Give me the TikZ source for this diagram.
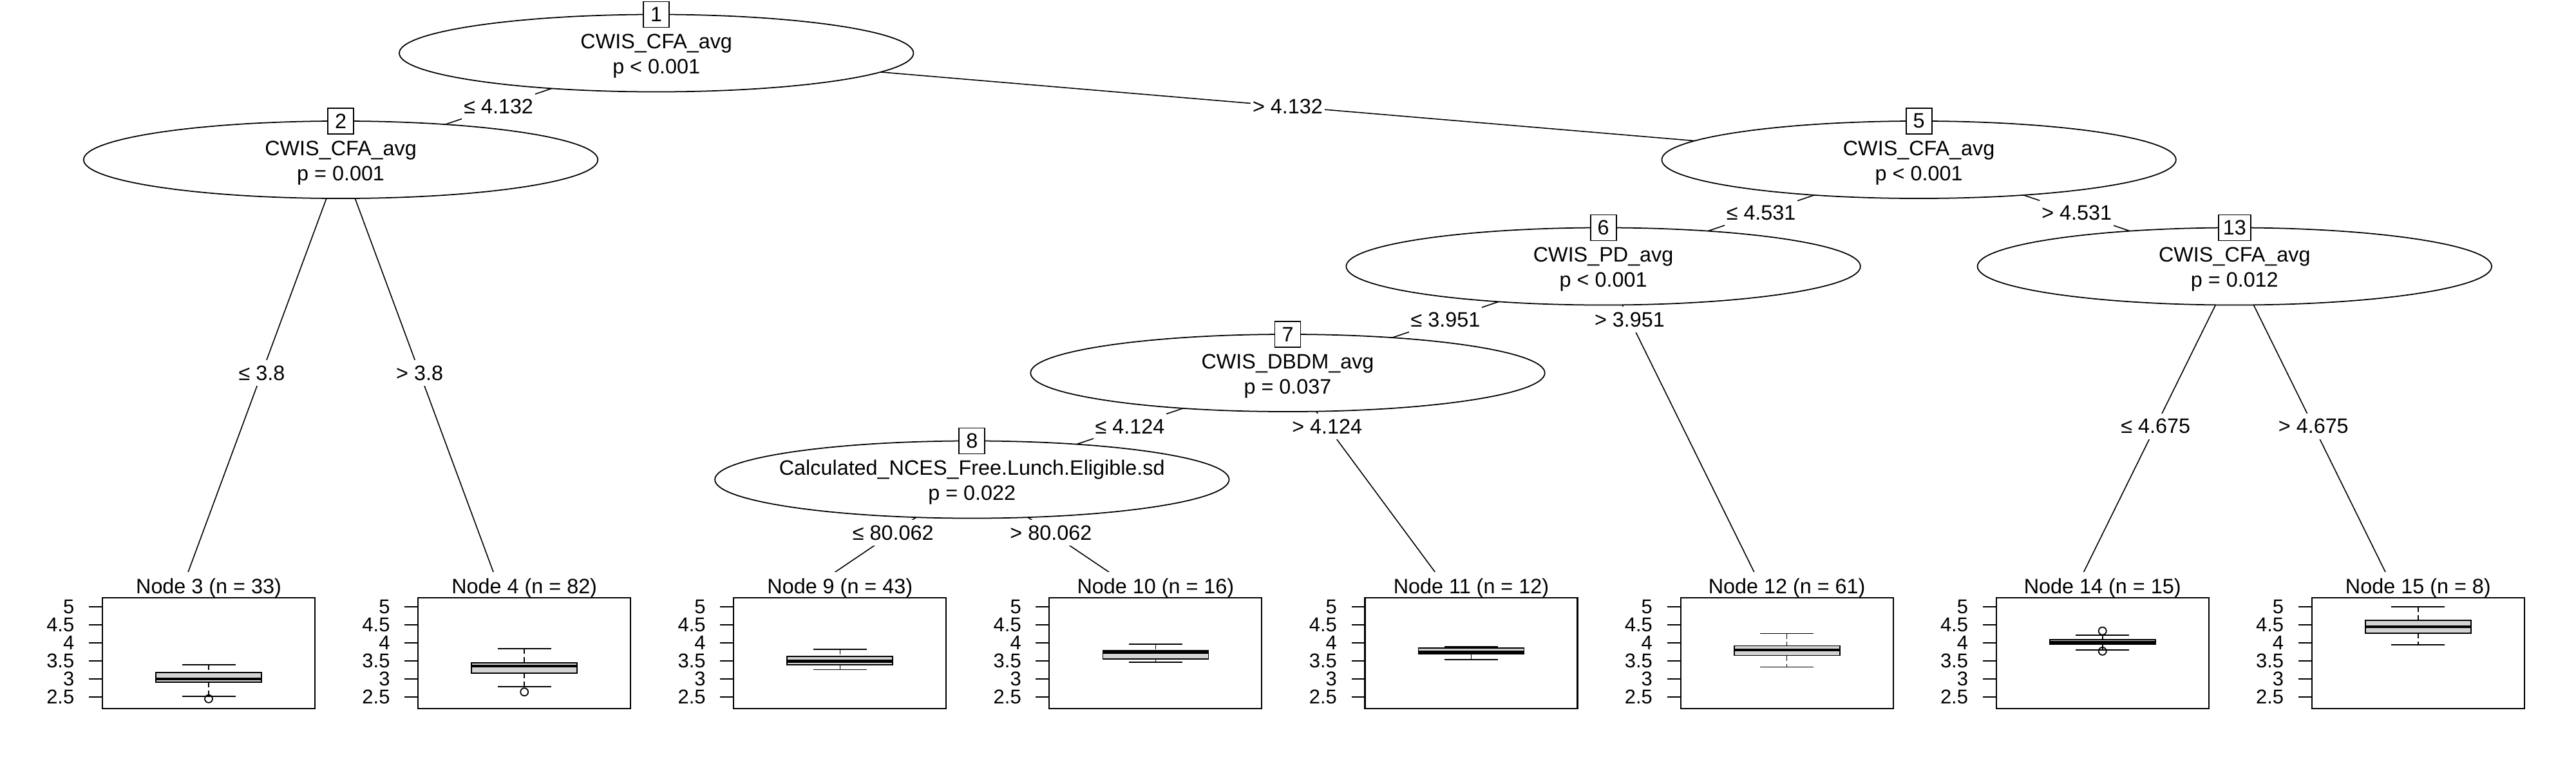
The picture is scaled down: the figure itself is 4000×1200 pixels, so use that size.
\documentclass[tikz,border=0pt]{standalone}
\usepackage{fontspec}
\setmainfont{Liberation Sans}
\usetikzlibrary{shapes.geometric,calc}
\pgfdeclarelayer{bg}
\pgfsetlayers{bg,main}
\newcommand\fn{\fontsize{9.2pt}{11pt}\selectfont}
\newcommand\ftick{\fontsize{8.8pt}{10pt}\selectfont}
\definecolor{boxgray}{HTML}{D3D3D3}

\newcommand\innernode[6]{%
  \node[ell] (#1) at (#2,#3) {};
  \node[numbox] (#1k) at (#2,#3-60) {#4};
  \node[txt,anchor=base] (#1a) at (#2,#3-7) {#5};
  \node[txt,anchor=base] (#1b) at (#2,#3+32) {#6};
}

\newcommand\terminal[8]{%
  \pgfmathsetmacro\bx{#2+40}
  \pgfmathsetmacro\yuw{942+56*(5-#4)}
  \pgfmathsetmacro\yqt{942+56*(5-#5)}
  \pgfmathsetmacro\ymd{942+56*(5-#6)}
  \pgfmathsetmacro\yqo{942+56*(5-#7)}
  \pgfmathsetmacro\ylw{942+56*(5-#8)}
  \coordinate (#1) at (#2,910);
  \node[panel] (#1p) at (#2,1044) {};
  \draw[frame] (#2-125,928) rectangle (#2+205,1100);
  \node[txt,anchor=base] (#1t) at (\bx,921) {#3};
  \foreach \v in {5,4.5,4,3.5,3,2.5}{%
    \draw[tickl] (#2-146,{942+56*(5-\v)}) -- (#2-125,{942+56*(5-\v)});
    \node[ticklab,anchor=east] at (#2-168,{942+56*(5-\v)}) {\v};
  }
  \draw[whisk] (\bx,\yuw) -- (\bx,\yqt);
  \draw[whisk] (\bx,\yqo) -- (\bx,\ylw);
  \draw[bpl] (\bx-41.5,\yuw) -- (\bx+41.5,\yuw);
  \draw[bpl] (\bx-41.5,\ylw) -- (\bx+41.5,\ylw);
  \filldraw[bpl,fill=boxgray] (\bx-82,\yqt) rectangle (\bx+82,\yqo);
  \draw[med] (\bx-82,\ymd) -- (\bx+82,\ymd);
  \coordinate (#1c) at (\bx,942);
}
\newcommand\outlier[2]{\draw[bpl] ($(#1c)+(0,{56*(5-#2)})$) circle[radius=0.06cm];}

\begin{document}
\begin{tikzpicture}[x=0.01cm,y=-0.01cm,
  ell/.style={ellipse,draw,fill=white,line width=0.5pt,minimum width=7.98cm,minimum height=1.2cm,inner sep=0pt},
  numbox/.style={draw,fill=white,line width=0.5pt,font=\fn,minimum width=0.4cm,minimum height=0.4cm,inner xsep=0.07cm,inner ysep=0pt},
  txt/.style={font=\fn,inner sep=0pt},
  elab/.style={font=\fn,fill=white,inner xsep=0.03cm,inner ysep=0pt,minimum height=0.4cm},
  edgeline/.style={line width=0.45pt},
  panel/.style={fill=white,minimum width=4.9cm,minimum height=3.12cm,inner sep=0pt},
  frame/.style={line width=0.6pt},
  tickl/.style={line width=0.5pt},
  ticklab/.style={font=\ftick,inner sep=0pt},
  whisk/.style={line width=0.45pt,dash pattern=on 2.3pt off 1.4pt},
  bpl/.style={line width=0.5pt},
  med/.style={line width=1.25pt}]
\useasboundingbox (0,0) rectangle (4000,1200);

% inner nodes
\innernode{n1}{1019.2}{82.5}{1}{CWIS\_CFA\_avg}{p < 0.001}
\innernode{n2}{529.1}{248}{2}{CWIS\_CFA\_avg}{p = 0.001}
\innernode{n5}{2979.6}{248}{5}{CWIS\_CFA\_avg}{p < 0.001}
\innernode{n6}{2489.6}{413.5}{6}{CWIS\_PD\_avg}{p < 0.001}
\innernode{n13}{3469.8}{413.5}{13}{CWIS\_CFA\_avg}{p = 0.012}
\innernode{n7}{1999.5}{579}{7}{CWIS\_DBDM\_avg}{p = 0.037}
\innernode{n8}{1509.3}{744.5}{8}{Calculated\_NCES\_Free.Lunch.Eligible.sd}{p = 0.022}

% terminal nodes
\terminal{t3}{284.0}{Node 3 (n = 33)}{3.39}{3.18}{3.0}{2.91}{2.52}
\outlier{t3}{2.45}
\terminal{t4}{774.2}{Node 4 (n = 82)}{3.84}{3.45}{3.36}{3.16}{2.79}
\outlier{t4}{2.64}
\terminal{t9}{1264.3}{Node 9 (n = 43)}{3.82}{3.63}{3.49}{3.39}{3.26}
\terminal{t10}{1754.4}{Node 10 (n = 16)}{3.96}{3.79}{3.73}{3.55}{3.46}
\terminal{t11}{2244.5}{Node 11 (n = 12)}{3.89}{3.86}{3.74}{3.70}{3.54}
\terminal{t12}{2734.6}{Node 12 (n = 61)}{4.26}{3.92}{3.80}{3.65}{3.33}
\terminal{t14}{3224.7}{Node 14 (n = 15)}{4.22}{4.09}{4.01}{3.96}{3.80}
\outlier{t14}{4.33}
\outlier{t14}{3.77}
\terminal{t15}{3714.8}{Node 15 (n = 8)}{5.0}{4.63}{4.45}{4.27}{3.95}

% edges (behind)
\begin{pgfonlayer}{bg}
\fill[white] (0,0) rectangle (4000,1200);
\draw[edgeline] (n1.center) -- (n2.center);
\draw[edgeline] (n1.center) -- (n5.center);
\draw[edgeline] (n2.center) -- (t3);
\draw[edgeline] (n2.center) -- (t4);
\draw[edgeline] (n5.center) -- (n6.center);
\draw[edgeline] (n5.center) -- (n13.center);
\draw[edgeline] (n6.center) -- (n7.center);
\draw[edgeline] (n6.center) -- (t12);
\draw[edgeline] (n7.center) -- (n8.center);
\draw[edgeline] (n7.center) -- (t11);
\draw[edgeline] (n8.center) -- (t9);
\draw[edgeline] (n8.center) -- (t10);
\draw[edgeline] (n13.center) -- (t14);
\draw[edgeline] (n13.center) -- (t15);
\end{pgfonlayer}

% edge labels
\path (n1.center) -- node[elab] (l12) {≤ 4.132} (n2.center);
\path (n1.center) -- node[elab] (l15) {> 4.132} (n5.center);
\path (n2.center) -- node[elab] (l23) {≤ 3.8} (t3);
\path (n2.center) -- node[elab] (l24) {> 3.8} (t4);
\path (n5.center) -- node[elab] (l56) {≤ 4.531} (n6.center);
\path (n5.center) -- node[elab] (l513) {> 4.531} (n13.center);
\path (n6.center) -- node[elab] (l67) {≤ 3.951} (n7.center);
\path (n6.center) -- node[elab,pos=0.1667] (l612) {> 3.951} (t12);
\path (n7.center) -- node[elab] (l78) {≤ 4.124} (n8.center);
\path (n7.center) -- node[elab,pos=0.25] (l711) {> 4.124} (t11);
\path (n8.center) -- node[elab] (l89) {≤ 80.062} (t9);
\path (n8.center) -- node[elab] (l810) {> 80.062} (t10);
\path (n13.center) -- node[elab] (l1314) {≤ 4.675} (t14);
\path (n13.center) -- node[elab] (l1315) {> 4.675} (t15);
\end{tikzpicture}
\end{document}
